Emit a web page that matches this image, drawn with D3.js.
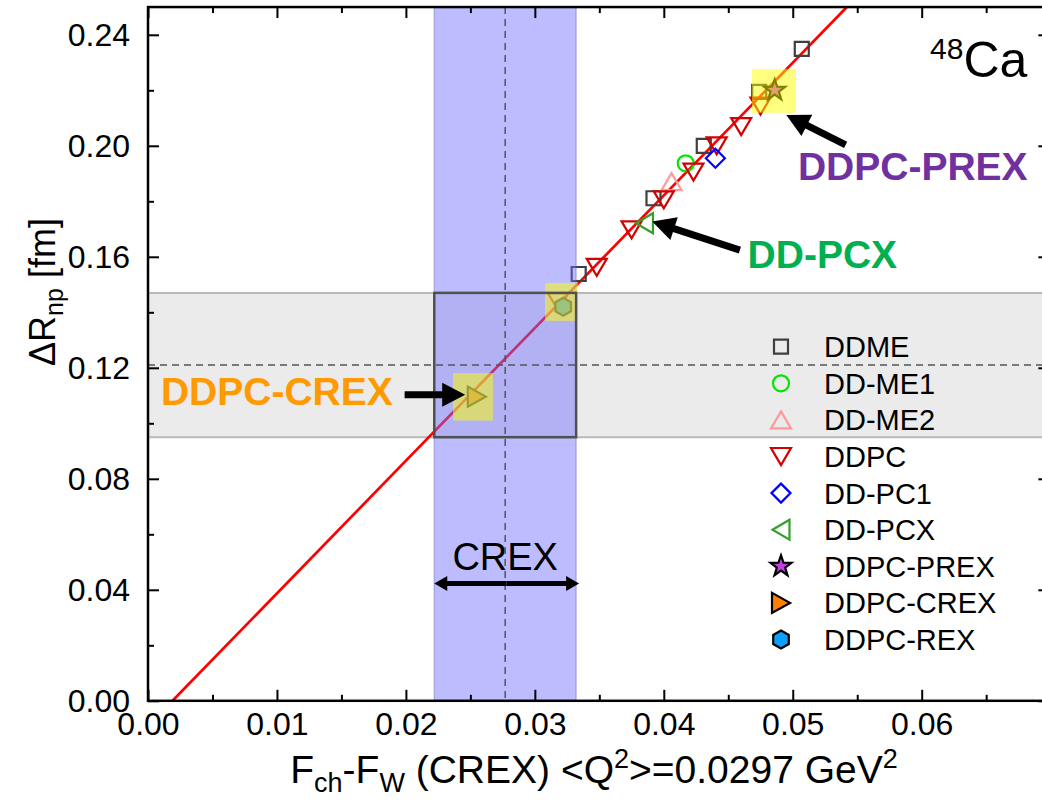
<!DOCTYPE html>
<html>
<head>
<meta charset="utf-8">
<script src="https://cdn.jsdelivr.net/npm/d3@7"></script>
<style>
  body { margin: 0; background: #fff; }
  svg { display: block; font-family: "Liberation Sans", Arial, Helvetica, sans-serif; }
</style>
</head>
<body>
<svg id="chart" width="1042" height="801"></svg>
<script>
// ---- Data: neutron skin thickness vs. form-factor difference for 48Ca ----
const ddmeX   = [0.0507, 0.0474, 0.0431, 0.0392, 0.0334];
const ddmeY   = [0.2349, 0.2194, 0.2000, 0.1811, 0.1538];
const ddme1X  = [0.0417];
const ddme1Y  = [0.1937];
const ddme2X  = [0.0406];
const ddme2Y  = [0.1871];
const ddpcX   = [0.0475, 0.0460, 0.0441, 0.0423, 0.0400, 0.0375, 0.0348, 0.0318];
const ddpcY   = [0.2143, 0.2069, 0.2000, 0.1905, 0.1805, 0.1697, 0.1562, 0.1438];
const ddpc1X  = [0.0440];
const ddpc1Y  = [0.1955];
const ddpcxX  = [0.0385];
const ddpcxY  = [0.1721];
const prexX   = [0.0486];
const prexY   = [0.2200];
const crexX   = [0.0255];
const crexY   = [0.1096];
const rexX    = [0.0322];
const rexY    = [0.1420];

// linear correlation line
const fitX = [0.0019, 0.0542];
const fitY = [0.0000, 0.2500];

// CREX measurement: Fch - Fw and the deduced ΔRnp (central, low, high)
const crexFchFw = [0.0277, 0.0222, 0.0332];
const crexRnp   = [0.1210, 0.0950, 0.1470];

// highlighted models [x0, x1, y0, y1]
const highlightBoxes = [
  [0.04684, 0.05025, 0.2119, 0.2277],
  [0.03079, 0.03335, 0.1369, 0.1506],
  [0.02365, 0.02675, 0.1010, 0.1181]
];

// axes
const xMajorTicks = [0.00, 0.01, 0.02, 0.03, 0.04, 0.05, 0.06];
const yMajorTicks = [0.00, 0.04, 0.08, 0.12, 0.16, 0.20, 0.24];
const xMinorTicks = [0.005, 0.015, 0.025, 0.035, 0.045, 0.055, 0.065];
const yMinorTicks = [0.02, 0.06, 0.10, 0.14, 0.18, 0.22];

// ---- Series appearance ----
const series = [
  { name: "DDME",       x: ddmeX,  y: ddmeY,  sym: "square",   stroke: "#3f3f3f", fill: "none" },
  { name: "DD-ME1",     x: ddme1X, y: ddme1Y, sym: "circle",   stroke: "#00e600", fill: "none" },
  { name: "DD-ME2",     x: ddme2X, y: ddme2Y, sym: "triUp",    stroke: "#ff9a9a", fill: "none" },
  { name: "DDPC",       x: ddpcX,  y: ddpcY,  sym: "triDown",  stroke: "#d40000", fill: "none" },
  { name: "DD-PC1",     x: ddpc1X, y: ddpc1Y, sym: "diamond",  stroke: "#0000ff", fill: "none" },
  { name: "DD-PCX",     x: ddpcxX, y: ddpcxY, sym: "triLeft",  stroke: "#33a02c", fill: "none" },
  { name: "DDPC-PREX",  x: prexX,  y: prexY,  sym: "star",     stroke: "#000000", fill: "#c23fe0" },
  { name: "DDPC-CREX",  x: crexX,  y: crexY,  sym: "triRight", stroke: "#000000", fill: "#ff8000" },
  { name: "DDPC-REX",   x: rexX,   y: rexY,   sym: "hexagon",  stroke: "#000000", fill: "#0aa0ff" }
];

function symbolPath(type) {
  switch (type) {
    case "square":   return "M-7,-7H7V7H-7Z";
    case "circle":   return "M8,0A8,8 0 1,1 -8,0A8,8 0 1,1 8,0Z";
    case "triDown":  return "M-10,-8.5L10,-8.5L0,8.5Z";
    case "triUp":    return "M0,-8.5L10,8.5L-10,8.5Z";
    case "diamond":  return "M0,-9.5L9.5,0L0,9.5L-9.5,0Z";
    case "triLeft":  return "M-8.5,0L8.5,-10L8.5,10Z";
    case "triRight": return "M9,0L-9,-10L-9,10Z";
    case "star": {
      const pts = [];
      for (let i = 0; i < 10; i++) {
        const r = i % 2 === 0 ? 11 : 4.4;
        const a = -Math.PI / 2 + i * Math.PI / 5;
        pts.push([r * Math.cos(a), r * Math.sin(a)]);
      }
      return "M" + pts.map(p => p[0].toFixed(2) + "," + p[1].toFixed(2)).join("L") + "Z";
    }
    case "hexagon": {
      const pts = [];
      for (let i = 0; i < 6; i++) {
        const a = -Math.PI / 2 + i * Math.PI / 3;
        pts.push([9 * Math.cos(a), 9 * Math.sin(a)]);
      }
      return "M" + pts.map(p => p[0].toFixed(2) + "," + p[1].toFixed(2)).join("L") + "Z";
    }
  }
}

// ---- Layout ----
const svg = d3.select("#chart");
const pLeft = 148, pBottom = 700.8, pTop = 7.05;
const x = d3.scaleLinear().domain([0, 0.0699]).range([pLeft, pLeft + 12895 * 0.0699]);
const y = d3.scaleLinear().domain([0, 0.25]).range([pBottom, pTop]);
const pRight = x.range()[1];

const plot = svg.append("g");

// gray band: ΔRnp range from CREX
plot.append("rect")
  .attr("x", pLeft).attr("width", pRight - pLeft)
  .attr("y", y(crexRnp[2])).attr("height", y(crexRnp[1]) - y(crexRnp[2]))
  .attr("fill", "#ebebeb");
[crexRnp[1], crexRnp[2]].forEach(v => {
  plot.append("line")
    .attr("x1", pLeft).attr("x2", pRight).attr("y1", y(v)).attr("y2", y(v))
    .attr("stroke", "#b8b8b8").attr("stroke-width", 2);
});

// correlation line
plot.append("path")
  .datum(fitX.map((d, i) => [d, fitY[i]]))
  .attr("d", d3.line().x(d => x(d[0])).y(d => y(d[1])))
  .attr("fill", "none").attr("stroke", "#ff0000").attr("stroke-width", 2.7);

// model points
series.forEach(s => {
  plot.append("g").selectAll("path")
    .data(s.x.map((d, i) => [d, s.y[i]]))
    .join("path")
    .attr("transform", d => `translate(${x(d[0])},${y(d[1])})`)
    .attr("d", symbolPath(s.sym))
    .attr("fill", s.fill).attr("stroke", s.stroke)
    .attr("stroke-width", 2.2).attr("stroke-linejoin", "miter");
});

// blue band: CREX Fch - Fw range
plot.append("rect")
  .attr("x", x(crexFchFw[1])).attr("width", x(crexFchFw[2]) - x(crexFchFw[1]))
  .attr("y", pTop).attr("height", pBottom - pTop)
  .attr("fill", "rgba(110,110,255,0.46)");
[crexFchFw[1], crexFchFw[2]].forEach(v => {
  plot.append("line")
    .attr("x1", x(v)).attr("x2", x(v)).attr("y1", pTop).attr("y2", pBottom)
    .attr("stroke", "rgba(90,90,190,0.35)").attr("stroke-width", 1.5);
});

// highlighted models
plot.append("g").selectAll("rect")
  .data(highlightBoxes)
  .join("rect")
  .attr("x", d => x(d[0])).attr("width", d => x(d[1]) - x(d[0]))
  .attr("y", d => y(d[3])).attr("height", d => y(d[2]) - y(d[3]))
  .attr("fill", "rgba(255,255,0,0.5)");

// central values
plot.append("line")
  .attr("x1", x(crexFchFw[0])).attr("x2", x(crexFchFw[0])).attr("y1", pTop).attr("y2", pBottom)
  .attr("stroke", "#555").attr("stroke-width", 1.5).attr("stroke-dasharray", "7,5");
plot.append("line")
  .attr("x1", pLeft).attr("x2", pRight).attr("y1", y(crexRnp[0])).attr("y2", y(crexRnp[0]))
  .attr("stroke", "#555").attr("stroke-width", 1.5).attr("stroke-dasharray", "7,5");

// overlap box
plot.append("rect")
  .attr("x", x(crexFchFw[1])).attr("width", x(crexFchFw[2]) - x(crexFchFw[1]))
  .attr("y", y(crexRnp[2])).attr("height", y(crexRnp[1]) - y(crexRnp[2]))
  .attr("fill", "none").attr("stroke", "#505050").attr("stroke-width", 2.5);

// ---- Axes ----
const axisFont = 32;
function styleAxis(g) {
  g.select(".domain").remove();
  g.selectAll("line").attr("stroke", "#000").attr("stroke-width", 2);
  g.selectAll("text").attr("font-size", axisFont).attr("fill", "#000")
    .attr("font-family", '"Liberation Sans", Arial, sans-serif');
}
const fmt = d3.format(".2f");

svg.append("g").attr("transform", `translate(0,${pBottom})`)
  .call(d3.axisBottom(x).tickValues(xMajorTicks).tickFormat(fmt).tickSizeInner(-11).tickSizeOuter(0).tickPadding(11))
  .call(styleAxis);
svg.append("g").attr("transform", `translate(0,${pBottom})`)
  .call(d3.axisBottom(x).tickValues(xMinorTicks).tickFormat("").tickSizeInner(-6).tickSizeOuter(0))
  .call(styleAxis);
svg.append("g").attr("transform", `translate(0,${pTop})`)
  .call(d3.axisTop(x).tickValues(xMajorTicks).tickFormat("").tickSizeInner(-11).tickSizeOuter(0))
  .call(styleAxis);
svg.append("g").attr("transform", `translate(0,${pTop})`)
  .call(d3.axisTop(x).tickValues(xMinorTicks).tickFormat("").tickSizeInner(-6).tickSizeOuter(0))
  .call(styleAxis);

svg.append("g").attr("transform", `translate(${pLeft},0)`)
  .call(d3.axisLeft(y).tickValues(yMajorTicks).tickFormat(fmt).tickSizeInner(-11).tickSizeOuter(0).tickPadding(18))
  .call(styleAxis);
svg.append("g").attr("transform", `translate(${pLeft},0)`)
  .call(d3.axisLeft(y).tickValues(yMinorTicks).tickFormat("").tickSizeInner(-6).tickSizeOuter(0))
  .call(styleAxis);
svg.append("g").attr("transform", `translate(${pRight},0)`)
  .call(d3.axisRight(y).tickValues(yMajorTicks).tickFormat("").tickSizeInner(-11).tickSizeOuter(0))
  .call(styleAxis);
svg.append("g").attr("transform", `translate(${pRight},0)`)
  .call(d3.axisRight(y).tickValues(yMinorTicks).tickFormat("").tickSizeInner(-6).tickSizeOuter(0))
  .call(styleAxis);

// frame
svg.append("rect")
  .attr("x", pLeft).attr("y", pTop).attr("width", pRight - pLeft).attr("height", pBottom - pTop)
  .attr("fill", "none").attr("stroke", "#000").attr("stroke-width", 2.5);

// axis titles
const xTitle = svg.append("text")
  .attr("x", 594).attr("y", 783).attr("text-anchor", "middle")
  .attr("font-size", 39).attr("fill", "#000");
xTitle.append("tspan").text("F");
xTitle.append("tspan").attr("font-size", 27).attr("dy", 9).text("ch");
xTitle.append("tspan").attr("dy", -9).text("-F");
xTitle.append("tspan").attr("font-size", 27).attr("dy", 9).text("W");
xTitle.append("tspan").attr("dy", -9).text(" (CREX) <Q");
xTitle.append("tspan").attr("font-size", 27).attr("dy", -15).text("2");
xTitle.append("tspan").attr("dy", 15).text(">=0.0297 GeV");
xTitle.append("tspan").attr("font-size", 27).attr("dy", -15).text("2");

const yTitle = svg.append("text")
  .attr("transform", "translate(55,292) rotate(-90)")
  .attr("text-anchor", "middle").attr("font-size", 36).attr("fill", "#000");
yTitle.append("tspan").text("ΔR");
yTitle.append("tspan").attr("font-size", 25).attr("dy", 8).text("np");
yTitle.append("tspan").attr("dy", -8).text(" [fm]");

// nucleus label
const nucl = svg.append("text").attr("x", 930).attr("y", 77).attr("fill", "#000");
nucl.append("tspan").attr("font-size", 30).attr("dy", -18).text("48");
nucl.append("tspan").attr("font-size", 50).attr("dy", 18).text("Ca");

// ---- Annotations ----
function arrow(g, x1, y1, x2, y2, w, hl, hw) {
  const dx = x2 - x1, dy = y2 - y1, L = Math.hypot(dx, dy);
  const ux = dx / L, uy = dy / L, nx = -uy, ny = ux;
  const bx = x2 - ux * hl, by = y2 - uy * hl;
  g.append("line").attr("x1", x1).attr("y1", y1).attr("x2", bx + ux * 1).attr("y2", by + uy * 1)
    .attr("stroke", "#000").attr("stroke-width", w);
  g.append("path")
    .attr("d", `M${x2},${y2}L${bx + nx * hw / 2},${by + ny * hw / 2}L${bx - nx * hw / 2},${by - ny * hw / 2}Z`)
    .attr("fill", "#000");
}
const ann = svg.append("g");

const callouts = [
  { text: "DDPC-PREX", color: "#7030a0", tx: 0.0504, ty: 0.1877, from: [0.0541, 0.2003], to: [0.0495, 0.2111] },
  { text: "DD-PCX",    color: "#00b050", tx: 0.0465, ty: 0.1560, from: [0.0459, 0.1624], to: [0.0391, 0.1727] },
  { text: "DDPC-CREX", color: "#ff9a00", tx: 0.0010, ty: 0.1066, from: [0.0199, 0.1103], to: [0.0246, 0.1103] }
];
callouts.forEach(c => {
  ann.append("text").attr("x", x(c.tx)).attr("y", y(c.ty))
    .attr("font-size", 39).attr("font-weight", "bold").attr("fill", c.color).text(c.text);
  arrow(ann, x(c.from[0]), y(c.from[1]), x(c.to[0]), y(c.to[1]), 7, 23, 24);
});

// CREX range marker
const crexBarY = 0.0423;
ann.append("text").attr("x", x(crexFchFw[0])).attr("y", y(0.0471))
  .attr("text-anchor", "middle").attr("font-size", 38).attr("fill", "#000").text("CREX");
(function () {
  const xa = x(crexFchFw[1]) , xb = x(crexFchFw[2]) + 3, yy = y(crexBarY);
  arrow(ann, (xa + xb) / 2, yy, xa, yy, 5, 13, 15);
  arrow(ann, (xa + xb) / 2, yy, xb, yy, 5, 13, 15);
})();

// ---- Legend ----
const legend = svg.append("g").attr("transform", "translate(781,346.7)");
series.forEach((s, i) => {
  const row = legend.append("g").attr("transform", `translate(0,${i * 36.6})`);
  row.append("path").attr("d", symbolPath(s.sym))
    .attr("fill", s.fill).attr("stroke", s.stroke).attr("stroke-width", 2.2);
  row.append("text").attr("x", 43).attr("dy", "0.36em")
    .attr("font-size", 29).attr("fill", "#000").text(s.name);
});
</script>
</body>
</html>
